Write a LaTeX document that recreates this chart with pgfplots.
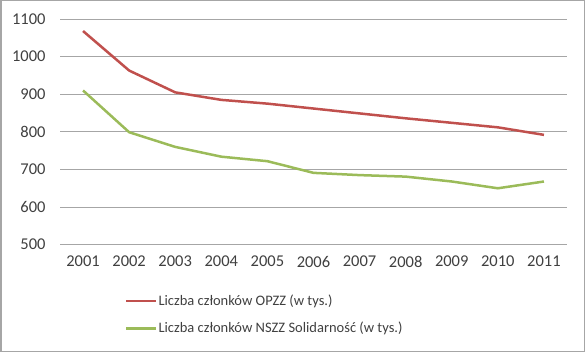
\documentclass[border=0pt]{standalone}
\usepackage{pgfplots}
\pgfplotsset{compat=1.18}
\usepackage{fontspec}
\setmainfont{Carlito}
\definecolor{cred}{HTML}{C0504D}
\definecolor{cgreen}{HTML}{9BBB59}
\definecolor{cgrid}{HTML}{A6A6A6}
\definecolor{ctext}{HTML}{404040}
\begin{document}
\begin{tikzpicture}
\draw[draw=cgrid, line width=1.5bp] (0.75bp,0.75bp) rectangle (584.25bp,351.25bp);
\begin{axis}[
  at={(60bp,107.3bp)}, anchor=south west,
  scale only axis, width=507bp, height=225.7bp,
  xmin=2000.5, xmax=2011.5, ymin=500, ymax=1100,
  xtick={2001,...,2011}, ytick={500,600,...,1100},
  /pgf/number format/1000 sep={},
  /pgf/number format/assume math mode=true,
  ticklabel style={font=\fontsize{16.5bp}{19bp}\selectfont, text=ctext},
  axis line style={draw=none},
  major tick length=0pt,
  ymajorgrids, grid style={cgrid, line width=1bp},
  yticklabel style={xshift=-11bp},
  xticklabel style={yshift=-8bp},
  legend style={at={(0.122,-0.205)}, anchor=north west, draw=none, fill=none,
    font=\fontsize{14.5bp}{17bp}\selectfont, text=ctext, row sep=11bp,
    /tikz/every even column/.append style={column sep=0pt},
    nodes={inner xsep=1bp}},
  legend cell align=left,
  legend image code/.code={\draw[#1, line width=2.5bp] (0bp,0bp) -- (30bp,0bp);},
]
\addplot[cred, line width=2.5bp] coordinates {(2001,1068) (2002,963) (2003,905) (2004,885) (2005,875) (2006,862) (2007,849) (2008,836) (2009,824) (2010,812) (2011,792)};
\addlegendentry{Liczba członków OPZZ (w tys.)}
\addplot[cgreen, line width=2.5bp] coordinates {(2001,910) (2002,799) (2003,760) (2004,734) (2005,722) (2006,691) (2007,685) (2008,681) (2009,668) (2010,650) (2011,668)};
\addlegendentry{Liczba członków NSZZ Solidarność (w tys.)}
\end{axis}
\end{tikzpicture}
\end{document}
